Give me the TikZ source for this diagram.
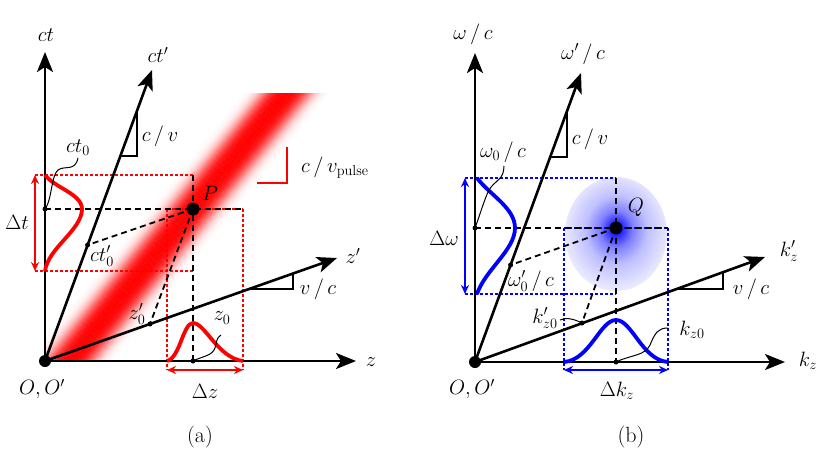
\documentclass[tikz,border=0pt]{standalone}
\usetikzlibrary{arrows.meta,calc}
\pgfdeclareradialshading{blob}{\pgfpoint{0bp}{2.5bp}}{color(0bp)=(blue); color(3bp)=(blue!85!white); color(8bp)=(blue!50!white); color(15bp)=(blue!25!white); color(25bp)=(blue!9!white); color(50bp)=(blue!9!white)}
\begin{document}
\begin{tikzpicture}[x=1pt,y=-1pt,
  axis/.style={line width=2.6pt,-{Stealth[length=20pt,width=16pt,inset=5pt]}},
  bd/.style={line width=1.8pt,dash pattern=on 6pt off 4pt},
  rd/.style={red,line width=1.1pt,dash pattern=on 3pt off 2pt},
  bld/.style={blue,line width=1.1pt,dash pattern=on 3pt off 2pt},
  gauss/.style={line width=3.8pt},
  dbl/.style={line width=1.8pt,{Stealth[length=9pt,width=8pt]}-{Stealth[length=9pt,width=8pt]}},
  tri/.style={line width=1.8pt},
  lead/.style={line width=1pt},
  bigdot/.style={circle,fill=black,inner sep=0pt,minimum size=12pt},
  smalldot/.style={circle,fill=black,inner sep=0pt,minimum size=5pt},
  lbl/.style={font=\fontsize{22}{26}\selectfont,inner sep=0pt},
]
\useasboundingbox (0,0) rectangle (831,458);
% ---------------- left panel coordinates
\coordinate (O) at (45,361);
\coordinate (ctT) at (45,52);
\coordinate (ctpT) at (152,70);
\coordinate (zT) at (356,361);
\coordinate (zpT) at (337,258);
\coordinate (P) at (193,209);
\coordinate (ct0) at (45,209);
\coordinate (ctp0) at (87.6,245);
\coordinate (zp0) at (150,324);
\coordinate (z0) at (193,361);
\coordinate (tTopL) at (35,175);
\coordinate (tTopR) at (193,175);
\coordinate (tBotL) at (35,271);
\coordinate (tBotR) at (193,271);
\coordinate (zBoxTL) at (167,209);
\coordinate (zBoxTR) at (243,209);
\coordinate (zBoxBL) at (167,370);
\coordinate (zBoxBR) at (243,370);
% red band
\begin{scope}
\clip (45,93) rectangle (420,361);
\foreach \i in {-34,...,34}{
  \pgfmathtruncatemacro\p{max(0,min(100,100*exp(-pow(abs(\i)/20,3))))}
  \draw[line width=1.3pt, red!\p!white] ({193+0.777*\i-300*0.6296},{209+0.6296*\i+300*0.777}) -- ({193+0.777*\i+300*0.6296},{209+0.6296*\i-300*0.777});
}
\end{scope}
% dashed guides
\draw[rd] (tTopL) -- (tTopR);
\draw[rd] (tBotL) -- (tBotR);
\draw[rd] (zBoxTL) -- (zBoxBL);
\draw[rd] (zBoxTR) -- (zBoxBR);
\draw[rd] (zBoxTL) -- (zBoxTR);
\draw[bd] (ct0) -- (zBoxTR);
\draw[bd] (tTopR) -- (z0);
\draw[bd] (P) -- (ctp0);
\draw[bd] (P) -- (zp0);
% axes
\draw[axis] (O) -- (ctT);
\draw[axis] (O) -- (ctpT);
\draw[axis] (O) -- (zT);
\draw[axis] (O) -- (zpT);
% slope triangles
\coordinate (s1a) at (120.4,156); \coordinate (s1b) at (137,156); \coordinate (s1c) at (137,110.6);
\draw[tri] (s1a) -- (s1b) -- (s1c);
\coordinate (s2a) at (249,289); \coordinate (s2b) at (293,289); \coordinate (s2c) at (293,273.5);
\draw[tri] (s2a) -- (s2b) -- (s2c);
\coordinate (pa) at (257,183); \coordinate (pb) at (287,183); \coordinate (pc) at (287,147);
\draw[red,line width=2pt] (pa) -- (pb) -- (pc);
% gaussians
\draw[red,gauss] (45,175) .. controls (55,188) and (82,194) .. (82,209) .. controls (82,230) and (48,248) .. (45,271);
\draw[red,gauss] (167,361) .. controls (180,358) and (183,323) .. (193,323) .. controls (205,323) and (218,358) .. (243,361);
% double arrows
\draw[red,dbl] (tTopL) -- (tBotL);
\draw[red,dbl] (zBoxBL) -- (zBoxBR);
% dots
\node[bigdot] (Odot) at (O) {};
\node[bigdot,minimum size=13pt] (Pdot) at (P) {};
\node[smalldot] (ct0dot) at (ct0) {};
\node[smalldot] (ctp0dot) at (ctp0) {};
\node[smalldot] (zp0dot) at (zp0) {};
\node[smalldot] (z0dot) at (z0) {};
% leaders
\draw[lead] (ct0) .. controls (52,200) and (51,176) .. (58,170) .. controls (65,165) and (75,172) .. (78,158);
\draw[lead] (z0) .. controls (203,356) and (212,356) .. (215,348) .. controls (217,342) and (216,338) .. (221,335);
% labels
\node[lbl] (Lct) at (46,35) {$ct$};
\node[lbl] (Lctp) at (158,55) {$ct'$};
\node[lbl] (Lcv) at (160,136) {$c\,/\,v$};
\node[lbl] (Lct0) at (78,148) {$ct_0$};
\node[lbl] (Lpulse) at (335,168) {$c\,/\,v_{\mathrm{pulse}}$};
\node[lbl] (LP) at (210,193) {$P$};
\node[lbl] (Ldt) at (17,222) {$\Delta t$};
\node[lbl] (Lctp0) at (102,256) {$ct'_0$};
\node[lbl] (Lzp0) at (137,314) {$z'_0$};
\node[lbl] (Lz0) at (222,318) {$z_0$};
\node[lbl] (Lzp) at (353,256) {$z'$};
\node[lbl] (Lvc) at (318,289) {$v\,/\,c$};
\node[lbl] (Lz) at (371,362) {$z$};
\node[lbl] (LO) at (42,389) {$O,O'$};
\node[lbl] (Ldz) at (205,391) {$\Delta z$};
\node[lbl] (La) at (200,437) {(a)};
% ---------------- right panel
\coordinate (O2) at (475,362);
\coordinate (wT) at (475,53);
\coordinate (wpT) at (581,73);
\coordinate (kT) at (785,362);
\coordinate (kpT) at (765,257);
\coordinate (Q) at (616,228);
\coordinate (w0) at (475,228);
\coordinate (wp0) at (510.6,265);
\coordinate (kp0) at (582,323);
\coordinate (k0) at (616,362);
\coordinate (wTopL) at (465,178);
\coordinate (wTopR) at (616,178);
\coordinate (wBotL) at (465,294);
\coordinate (wBotR) at (616,294);
\coordinate (kBoxTL) at (564,228);
\coordinate (kBoxTR) at (668,228);
\coordinate (kBoxBL) at (564,370);
\coordinate (kBoxBR) at (668,370);
\shade[shading=blob] (616,234) ellipse[x radius=51pt, y radius=57pt];
\draw[bld] (wTopL) -- (wTopR);
\draw[bld] (wBotL) -- (wBotR);
\draw[bld] (kBoxTL) -- (kBoxBL);
\draw[bld] (kBoxTR) -- (kBoxBR);
\draw[bld] (kBoxTL) -- (kBoxTR);
\draw[bd] (w0) -- (kBoxTR);
\draw[bd] (wTopR) -- (k0);
\draw[bd] (Q) -- (wp0);
\draw[bd] (Q) -- (kp0);
\draw[axis] (O2) -- (wT);
\draw[axis] (O2) -- (wpT);
\draw[axis] (O2) -- (kT);
\draw[axis] (O2) -- (kpT);
\coordinate (s3a) at (550.2,157); \coordinate (s3b) at (567,157); \coordinate (s3c) at (567,111.2);
\draw[tri] (s3a) -- (s3b) -- (s3c);
\coordinate (s4a) at (676.6,289); \coordinate (s4b) at (723,289); \coordinate (s4c) at (723,272.2);
\draw[tri] (s4a) -- (s4b) -- (s4c);
\draw[blue,gauss] (477,178) .. controls (490,195) and (515,208) .. (515,228) .. controls (515,250) and (485,270) .. (477,294);
\draw[blue,gauss] (564,362) .. controls (590,360) and (600,320) .. (616,320) .. controls (632,320) and (642,360) .. (668,362);
\draw[blue,dbl] (wTopL) -- (wBotL);
\draw[blue,dbl] (kBoxBL) -- (kBoxBR);
\node[bigdot] (O2dot) at (O2) {};
\node[bigdot,minimum size=13pt] (Qdot) at (Q) {};
\node[smalldot] (w0dot) at (w0) {};
\node[smalldot] (wp0dot) at (wp0) {};
\node[smalldot] (kp0dot) at (kp0) {};
\node[smalldot] (k0dot) at (k0) {};
\draw[lead] (w0) .. controls (480,215) and (484,200) .. (489,190) .. controls (495,180) and (504,180) .. (504,166);
\draw[lead] (k0) .. controls (630,355) and (645,356) .. (650,345) .. controls (655,333) and (658,328) .. (668,328);
\coordinate (kp0L) at (560,320);
\draw[lead] (kp0L) .. controls (566,317) and (574,319) .. (kp0);
\node[lbl] (Lw) at (473,34) {$\omega\,/\,c$};
\node[lbl] (Lwp) at (583,54) {$\omega'\,/\,c$};
\node[lbl] (Lcv2) at (590,139) {$c\,/\,v$};
\node[lbl] (Lw0) at (503,152) {$\omega_0\,/\,c$};
\node[lbl] (LQ) at (636,207) {$Q$};
\node[lbl] (Ldw) at (444,238) {$\Delta\omega$};
\node[lbl] (Lwp0) at (531,281) {$\omega'_0\,/\,c$};
\node[lbl] (Lkp) at (789,251) {$k'_z$};
\node[lbl] (Lvc2) at (751,289) {$v\,/\,c$};
\node[lbl] (Lkp0) at (545,318) {$k'_{z0}$};
\node[lbl] (Lk0) at (692,330) {$k_{z0}$};
\node[lbl] (Lk) at (808,361) {$k_z$};
\node[lbl] (LO2) at (472,389) {$O,O'$};
\node[lbl] (Ldk) at (617,391) {$\Delta k_z$};
\node[lbl] (Lb) at (631,437) {(b)};
\end{tikzpicture}
\end{document}
